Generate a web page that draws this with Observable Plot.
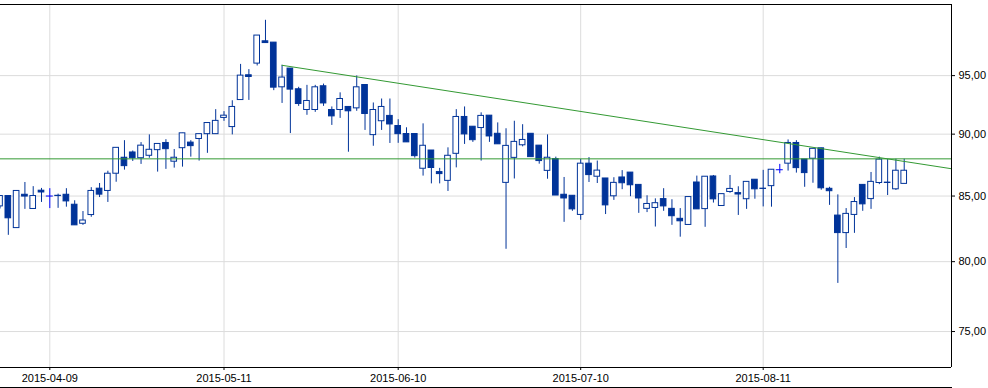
<!DOCTYPE html>
<html><head><meta charset="utf-8">
<script src="https://cdn.jsdelivr.net/npm/d3@7"></script>
<script src="https://cdn.jsdelivr.net/npm/@observablehq/plot@0.6"></script>
<style>
html,body{margin:0;padding:0;background:#fff;}
#chart svg{display:block;}
#bottomline{width:952px;height:0;border-top:1px solid #000;}
</style></head><body><div id="chart"></div><div id="bottomline"></div>
<script>
const dates = ["2015-03-31","2015-04-01","2015-04-02","2015-04-03","2015-04-07","2015-04-08","2015-04-09","2015-04-10","2015-04-13","2015-04-14",
"2015-04-15","2015-04-16","2015-04-17","2015-04-20","2015-04-21","2015-04-22","2015-04-23","2015-04-24","2015-04-27","2015-04-28",
"2015-04-29","2015-04-30","2015-05-04","2015-05-05","2015-05-06","2015-05-07","2015-05-08","2015-05-11","2015-05-12","2015-05-13",
"2015-05-14","2015-05-15","2015-05-18","2015-05-19","2015-05-20","2015-05-21","2015-05-22","2015-05-25","2015-05-26","2015-05-27",
"2015-05-28","2015-05-29","2015-06-01","2015-06-02","2015-06-03","2015-06-05","2015-06-08","2015-06-09","2015-06-10","2015-06-11",
"2015-06-12","2015-06-15","2015-06-16","2015-06-17","2015-06-18","2015-06-19","2015-06-22","2015-06-23","2015-06-24","2015-06-25",
"2015-06-26","2015-06-29","2015-06-30","2015-07-01","2015-07-02","2015-07-03","2015-07-06","2015-07-07","2015-07-08","2015-07-09",
"2015-07-10","2015-07-13","2015-07-14","2015-07-15","2015-07-16","2015-07-17","2015-07-20","2015-07-21","2015-07-22","2015-07-23",
"2015-07-24","2015-07-27","2015-07-28","2015-07-29","2015-07-30","2015-07-31","2015-08-03","2015-08-04","2015-08-05","2015-08-06",
"2015-08-07","2015-08-10","2015-08-11","2015-08-12","2015-08-13","2015-08-14","2015-08-17","2015-08-18","2015-08-19","2015-08-20",
"2015-08-21","2015-08-24","2015-08-25","2015-08-26","2015-08-27","2015-08-28","2015-08-31","2015-09-01","2015-09-02","2015-09-03"];

const open = [84.19,85.0,82.52,85.1,83.99,85.42,85.0,85.02,85.1,84.32,
82.85,83.52,85.58,85.4,86.77,88.06,88.49,88.02,88.22,88.68,
89.27,87.74,88.84,89.3,89.6,90.0,90.0,91.36,90.59,92.88,
95.03,96.06,98.06,97.94,93.98,95.62,93.81,92.03,92.03,94.07,
92.03,92.03,92.29,92.17,94.18,89.92,91.08,91.53,90.68,90.01,
90.01,87.17,88.65,86.9,86.2,88.38,91.44,90.62,90.51,91.55,
90.03,86.04,88.05,89.08,90.03,89.05,87.0,87.95,85.1,85.02,
83.53,87.58,86.53,86.39,84.98,86.47,86.86,85.88,84.0,84.07,
84.76,84.0,83.23,82.76,86.07,83.98,86.55,84.22,85.32,85.23,
84.75,86.29,85.58,85.78,87.09,87.58,89.27,87.92,87.98,88.83,
85.57,83.48,82.14,83.53,85.88,84.76,86.03,86.06,85.53,85.96];

const high = [85.0,85.0,85.4,86.07,85.74,85.6,85.58,85.15,85.58,84.63,
83.79,85.66,85.99,86.97,88.87,89.46,88.61,89.3,89.94,89.19,
89.54,88.73,90.07,89.46,90.0,90.93,92.06,91.89,92.82,95.99,
95.53,98.58,99.98,97.94,95.91,95.62,93.98,94.15,94.15,94.26,
92.29,93.5,92.29,94.97,94.18,92.63,92.97,92.97,91.21,90.53,
90.01,90.86,88.65,87.2,88.87,92.06,92.29,90.62,91.79,91.55,
90.94,90.45,91.08,90.79,90.03,89.05,89.94,88.11,86.47,85.02,
87.92,88.07,87.79,86.39,86.45,87.02,86.86,85.88,85.02,84.78,
85.58,84.71,84.02,84.92,86.58,86.53,86.63,85.15,86.63,85.73,
86.12,86.29,87.04,87.09,87.52,89.52,89.46,87.92,88.79,88.83,
85.69,85.09,84.02,84.88,85.88,86.87,88.11,87.91,87.94,87.94];

const low = [83.99,81.97,82.52,83.96,83.99,84.5,84.02,84.04,84.13,82.73,
82.73,83.35,84.88,84.5,86.09,87.06,87.76,87.52,88.02,86.9,
87.12,87.22,87.3,88.11,87.79,88.42,90.0,91.07,89.94,92.88,
92.85,95.85,97.9,93.69,92.59,90.05,92.34,91.58,91.83,92.34,
90.73,91.32,88.51,91.92,90.31,89.0,90.31,89.23,89.24,89.32,
88.03,86.58,85.96,85.96,85.36,87.24,89.15,89.32,87.79,89.32,
89.16,80.92,86.35,88.95,88.11,87.54,86.33,85.04,82.96,83.81,
83.12,86.07,85.99,83.56,84.66,85.5,84.95,83.65,83.71,82.6,
83.81,82.73,81.83,82.76,83.96,82.58,84.45,84.22,85.22,83.49,
83.96,84.75,84.15,84.13,86.77,86.98,86.82,85.69,86.01,85.46,
84.27,78.41,80.98,82.12,83.81,83.96,85.9,85.04,85.44,85.96];

const close = [85.0,83.27,85.4,84.96,85.0,85.28,85.0,85.0,84.58,82.73,
83.1,85.4,85.11,86.77,88.87,87.38,88.02,89.05,88.71,89.19,
88.76,88.06,90.07,89.01,90.0,90.93,91.11,91.55,92.29,95.0,
94.88,98.58,97.9,93.95,94.83,93.78,92.54,92.8,93.98,92.59,
91.49,92.97,91.92,93.98,91.69,92.03,92.29,90.81,90.0,89.32,
88.19,89.04,87.23,86.74,88.22,91.44,89.98,89.5,91.53,89.81,
89.16,89.03,89.36,89.52,88.11,87.79,88.06,85.04,84.81,83.96,
87.58,86.66,87.02,84.27,86.04,86.01,85.85,84.81,84.38,84.44,
84.19,83.43,83.04,84.92,83.96,86.53,84.74,85.15,85.56,85.12,
86.12,85.53,85.56,87.09,87.09,89.27,87.22,86.82,88.79,85.61,
85.38,82.14,83.61,84.53,84.35,86.12,87.91,86.03,87.01,87.01];

const xTickLabels = ["2015-04-09","2015-05-11","2015-06-10","2015-07-10","2015-08-11"];
const yTicks = [75, 80, 85, 90, 95];
const yTickLabels = ["75,00", "80,00", "85,00", "90,00", "95,00"];
const levelValue = [87.97];
const trendIndex = [34, 114.7];
const trendValue = [95.91, 87.17];
const xDomain = [0.057, 114.7];
const yDomain = [72.55, 101.45];

const candleColor = "#003399";
const dojiColor = "#0000ff";
const lineColor = "#339933";
const gridColor = "#dcdcdc";

const data = dates.map((d, i) => ({i, date: d, open: open[i], high: high[i], low: low[i], close: close[i]}));
const doji = data.filter(d => d.open === d.close);
const bodies = data.filter(d => d.open !== d.close);
const trend = trendIndex.map((x, k) => ({x, y: trendValue[k]}));
const xTicks = xTickLabels.map(t => dates.indexOf(t));
const yLabelData = yTicks.map((v, k) => ({v, label: yTickLabels[k]}));
const hw = 0.34;

const chart = Plot.plot({
  width: 988,
  height: 387,
  marginLeft: 0,
  marginRight: 37,
  marginTop: 4,
  marginBottom: 20,
  style: {fontFamily: "'Liberation Sans', Arial, sans-serif", fontSize: "11px", color: "#000", background: "#fff"},
  x: {type: "linear", domain: xDomain, label: null, axis: null},
  y: {type: "log", domain: yDomain, label: null, axis: null},
  marks: [
    Plot.gridX(xTicks, {stroke: gridColor, strokeOpacity: 1}),
    Plot.gridY(yTicks, {stroke: gridColor, strokeOpacity: 1}),
    Plot.ruleX(data, {x: "i", y1: "low", y2: "high", stroke: d => d.open === d.close ? dojiColor : candleColor, strokeWidth: 1, clip: true}),
    Plot.rect(bodies, {x1: d => d.i - hw, x2: d => d.i + hw, y1: "open", y2: "close",
      fill: d => d.close > d.open ? "#fff" : candleColor, stroke: candleColor, strokeWidth: 1, clip: true}),
    Plot.ruleY(doji, {y: "open", x1: d => d.i - 0.42, x2: d => d.i + 0.42, stroke: dojiColor, strokeWidth: 1}),
    Plot.ruleY(levelValue, {stroke: lineColor, strokeWidth: 1}),
    Plot.line(trend, {x: "x", y: "y", stroke: lineColor, strokeWidth: 1}),
    Plot.ruleY([yDomain[1]], {stroke: "#000"}),
    Plot.ruleY([yDomain[0]], {stroke: "#000"}),
    Plot.ruleX([xDomain[1]], {stroke: "#000"}),
    Plot.axisY(yTicks, {anchor: "right", tickSize: 3, tickPadding: 4, tickFormat: () => "", label: null}),
    Plot.text(yLabelData, {y: "v", text: "label", frameAnchor: "right", textAnchor: "start", dx: 7, fill: "#000"}),
    Plot.axisX(xTicks, {anchor: "bottom", tickSize: 3, tickPadding: 4, tickFormat: i => dates[i], label: null})
  ]
});
document.getElementById("chart").appendChild(chart);
</script>
</body></html>
